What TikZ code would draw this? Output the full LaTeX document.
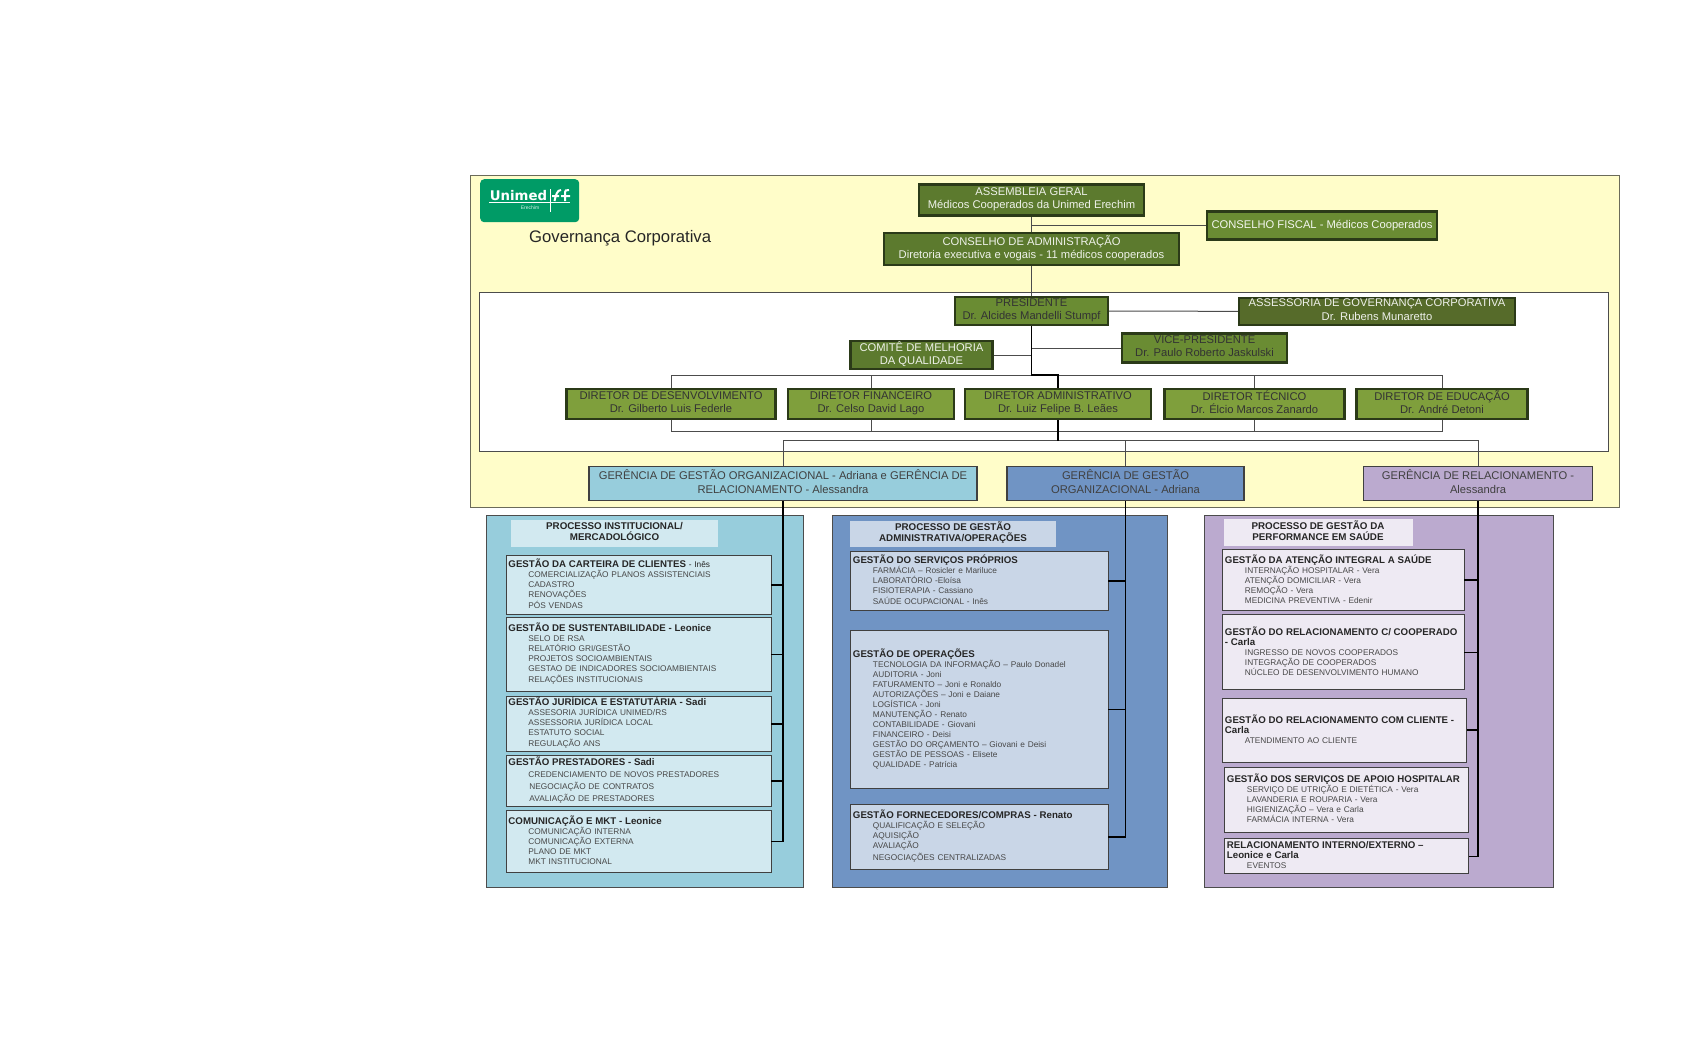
\documentclass[tikz,border=0pt]{standalone}
\usepackage{xcolor}
\usepackage{fontspec}
\setmainfont{Liberation Sans}
\newfontfamily\logofont{DejaVu Sans}
\usetikzlibrary{positioning,calc}

\definecolor{yellowbg}{HTML}{FFFDC9}
\definecolor{framegray}{HTML}{6B6B5A}
\definecolor{logogreen}{HTML}{009B66}
\definecolor{darkgreen}{HTML}{5C7A2E}
\definecolor{midgreen}{HTML}{6A8C33}
\definecolor{lightgreen}{HTML}{7F9F3C}
\definecolor{olivegreen}{HTML}{566B2A}
\definecolor{greenedge}{HTML}{2B3A18}
\definecolor{cyanpanel}{HTML}{97CDDC}
\definecolor{cyanbox}{HTML}{D2E9F0}
\definecolor{bluepanel}{HTML}{7094C4}
\definecolor{bluebox}{HTML}{C9D6E7}
\definecolor{lilacpanel}{HTML}{BBAACF}
\definecolor{lilacbox}{HTML}{EEEAF3}

\newcommand{\itm}[1]{\hspace*{20pt}{\color{black!72}#1}}
\newcommand{\hd}{\bfseries\fontsize{9.7}{12}\selectfont}

\tikzset{
    govbox/.style={draw=greenedge, line width=2.4pt, align=center, inner sep=0pt, execute at begin node=\strut, execute at end node=\strut, font=\fontsize{11.2}{13.5}\selectfont},
    gerbox/.style={draw=black!75, line width=1.8pt, align=center, inner sep=0pt, text=black!75, execute at begin node=\strut, execute at end node=\strut, font=\fontsize{11.2}{13.5}\selectfont},
    panelbox/.style={draw=black!70, line width=1pt, anchor=north west, inner sep=0pt},
    titlebox/.style={align=center, inner sep=0pt, text=black!85, execute at begin node=\strut, execute at end node=\strut, font=\bfseries\fontsize{9.8}{11}\selectfont},
    gestbox/.style={draw=black!75, line width=0.9pt, anchor=north west, align=left, inner xsep=2.5pt, inner ysep=0pt, text=black!85, execute at end node={\par\vspace*{2pt}}, font=\fontsize{8.3}{10}\selectfont},
    thinline/.style={draw=black!70, line width=1pt},
    thickline/.style={draw=black, line width=1.4pt}
}

\begin{document}
\begin{tikzpicture}[x=1pt,y=-1pt]
    \useasboundingbox (0,0) rectangle (1692,1053);
    \fill[white] (0,0) rectangle (1692,1053);

    % governance frames
    \node[draw=framegray, line width=1.2pt, fill=yellowbg, anchor=north west, minimum width=1149pt, minimum height=332.5pt, inner sep=0pt] (govframe) at (470,174.5) {};
    \node[draw=black!70, line width=1pt, fill=white, anchor=north west, minimum width=1129pt, minimum height=159pt, inner sep=0pt] (mgmtframe) at (478.5,292) {};

    % logo
    \node[fill=logogreen, rounded corners=4pt, anchor=north west, minimum width=99pt, minimum height=43pt, inner sep=0pt] (logo) at (480,179) {};
    \node[text=white, inner sep=0pt, font=\logofont\bfseries\fontsize{13.3}{14}\selectfont] (logoname) at (518.5,195.5) {Unimed};
    \node[text=white!85!logogreen, inner sep=0pt, font=\fontsize{5}{5}\selectfont] (logocity) at (530,207.5) {Erechim};
    \draw[white, line width=0.4pt] (489,202) -- (570,202);
    \draw[white, line width=0.5pt] (550,189) -- (550,212);
    \draw[white, line width=2pt] (554.5,201) .. controls (556,195) and (557,190) .. (561,190) (552,196) -- (559,196);
    \draw[white, line width=2pt] (565,201) -- (565,192) .. controls (565,190.5) and (566,190) .. (569,190) (561,196) -- (570,196);

    \node[anchor=west, inner sep=0pt, text=black!85, font=\fontsize{16.7}{18}\selectfont] (govtitle) at (529,238.5) {Governança Corporativa};

    % council
    \node[govbox, fill=darkgreen, text=white!90!darkgreen, minimum width=225pt, minimum height=31pt] (assembleia) at (1031.5,200) {ASSEMBLEIA GERAL\\Médicos Cooperados da Unimed Erechim};
    \node[govbox, fill=darkgreen, text=white!90!darkgreen, minimum width=295pt, minimum height=32pt] (conselho) at (1031.5,249) {CONSELHO DE ADMINISTRAÇÃO\\Diretoria executiva e vogais - 11 médicos cooperados};
    \node[govbox, fill=midgreen, text=white!92!midgreen, minimum width=230pt, minimum height=28pt] (fiscal) at (1322,225.5) {CONSELHO FISCAL - Médicos Cooperados};

    % presidency
    \node[govbox, fill=midgreen, text=black!80, minimum width=153pt, minimum height=28pt] (presidente) at (1031.5,311) {PRESIDENTE\\Dr. Alcides Mandelli Stumpf};
    \node[govbox, fill=olivegreen, text=white!90!olivegreen, minimum width=276pt, minimum height=27pt] (assessoria) at (1377,311.5) {ASSESSORIA DE GOVERNANÇA CORPORATIVA\\Dr. Rubens Munaretto};
    \node[govbox, fill=midgreen, text=black!80, minimum width=165pt, minimum height=29pt] (vice) at (1204.5,348) {VICE-PRESIDENTE\\Dr. Paulo Roberto Jaskulski};
    \node[govbox, fill=darkgreen, text=white!90!darkgreen, minimum width=142pt, minimum height=28pt] (comite) at (921.5,355) {COMITÊ DE MELHORIA\\DA QUALIDADE};

    % directors
    \foreach \dname/\dx/\dw/\dtitle/\dperson in {
        dirdes/671/209/DIRETOR DE DESENVOLVIMENTO/Dr. Gilberto Luis Federle,
        dirfin/871/166/DIRETOR FINANCEIRO/Dr. Celso David Lago,
        diradm/1058/186/DIRETOR ADMINISTRATIVO/Dr. Luiz Felipe B. Leães,
        dirtec/1254.5/180/DIRETOR TÉCNICO/Dr. Élcio Marcos Zanardo,
        diredu/1442/171/DIRETOR DE EDUCAÇÃO/Dr. André Detoni}
        \node[govbox, fill=lightgreen, text=black!80, minimum width=\dw pt, minimum height=30pt] (\dname) at (\dx,404) {\dtitle\\\dperson};

    % managers
    \node[gerbox, fill=cyanpanel, minimum width=388pt, minimum height=34pt] (ger1) at (783,483.5) {GERÊNCIA DE GESTÃO ORGANIZACIONAL - Adriana e GERÊNCIA DE\\RELACIONAMENTO - Alessandra};
    \node[gerbox, fill=bluepanel, minimum width=237pt, minimum height=34pt] (ger2) at (1125.5,483.5) {GERÊNCIA DE GESTÃO\\ORGANIZACIONAL - Adriana};
    \node[gerbox, fill=lilacpanel, minimum width=229pt, minimum height=34pt] (ger3) at (1478,483.5) {GERÊNCIA DE RELACIONAMENTO -\\Alessandra};

    % process panels
    \node[panelbox, fill=cyanpanel, minimum width=316.5pt, minimum height=372pt] (panel1) at (486,515) {};
    \node[panelbox, fill=bluepanel, minimum width=335pt, minimum height=372pt] (panel2) at (832,515) {};
    \node[panelbox, fill=lilacpanel, minimum width=349pt, minimum height=372pt] (panel3) at (1204,515) {};

    \node[titlebox, fill=cyanbox, minimum width=207pt, minimum height=27pt] (title1) at (614.5,533.5) {PROCESSO INSTITUCIONAL/\\MERCADOLÓGICO};
    \node[titlebox, fill=bluebox, minimum width=206pt, minimum height=26pt] (title2) at (953,533.5) {PROCESSO DE GESTÃO\\ADMINISTRATIVA/OPERAÇÕES};
    \node[titlebox, fill=lilacbox, minimum width=189pt, minimum height=27pt] (title3) at (1318,532) {PROCESSO DE GESTÃO DA\\PERFORMANCE EM SAÚDE};

    % first panel
    \node[gestbox, fill=cyanbox, text width=260pt, minimum height=59pt] (carteira) at (505.5,555) {{\hd GESTÃO DA CARTEIRA DE CLIENTES} - Inês\\\itm{COMERCIALIZAÇÃO PLANOS ASSISTENCIAIS}\\\itm{CADASTRO}\\\itm{RENOVAÇÕES}\\[1.5pt]\itm{PÓS VENDAS}};
    \node[gestbox, fill=cyanbox, text width=260pt, minimum height=74pt] (sustent) at (505.5,617) {{\hd GESTÃO DE SUSTENTABILIDADE - Leonice}\\\itm{SELO DE RSA}\\\itm{RELATÓRIO GRI/GESTÃO}\\\itm{PROJETOS SOCIOAMBIENTAIS}\\\itm{GESTAO DE INDICADORES SOCIOAMBIENTAIS}\\[1pt]\itm{RELAÇÕES INSTITUCIONAIS}};
    \node[gestbox, fill=cyanbox, text width=260pt, minimum height=55pt] (juridica) at (505.5,696) {{\hd GESTÃO JURÍDICA E ESTATUTÁRIA - Sadi}\\\itm{ASSESORIA JURÍDICA UNIMED/RS}\\\itm{ASSESSORIA JURÍDICA LOCAL}\\\itm{ESTATUTO SOCIAL}\\[1pt]\itm{REGULAÇÃO ANS}};
    \node[gestbox, fill=cyanbox, text width=260pt, minimum height=51pt] (prestadores) at (505.5,755) {{\hd GESTÃO PRESTADORES - Sadi}\\[2pt]\itm{CREDENCIAMENTO DE NOVOS PRESTADORES}\\[2pt]\itm{\hspace*{1pt}NEGOCIAÇÃO DE CONTRATOS}\\[2pt]\itm{\hspace*{1pt}AVALIAÇÃO DE PRESTADORES}};
    \node[gestbox, fill=cyanbox, text width=260pt, minimum height=62pt] (comunic) at (505.5,810) {{\hd COMUNICAÇÃO E MKT - Leonice}\\\itm{COMUNICAÇÃO INTERNA}\\\itm{COMUNICAÇÃO EXTERNA}\\\itm{PLANO DE MKT}\\\itm{MKT INSTITUCIONAL}};

    % second panel
    \node[gestbox, fill=bluebox, text width=252.5pt, minimum height=59pt] (proprios) at (850,551) {{\hd GESTÃO DO SERVIÇOS PRÓPRIOS}\\\itm{FARMÁCIA – Rosicler e Mariluce}\\\itm{LABORATÓRIO -Eloísa}\\\itm{FISIOTERAPIA - Cassiano}\\[1.5pt]\itm{SAÚDE OCUPACIONAL - Inês}};
    \node[gestbox, fill=bluebox, text width=252.5pt, minimum height=158pt] (operacoes) at (850,630.3) {{\hd GESTÃO DE OPERAÇÕES}\\\itm{TECNOLOGIA DA INFORMAÇÃO – Paulo Donadel}\\\itm{AUDITORIA - Joni}\\\itm{FATURAMENTO – Joni e Ronaldo}\\\itm{AUTORIZAÇÕES – Joni e Daiane}\\\itm{LOGÍSTICA - Joni}\\\itm{MANUTENÇÃO - Renato}\\\itm{CONTABILIDADE - Giovani}\\\itm{FINANCEIRO - Deisi}\\\itm{GESTÃO DO ORÇAMENTO – Giovani e Deisi}\\\itm{GESTÃO DE PESSOAS - Elisete}\\\itm{QUALIDADE - Patrícia}};
    \node[gestbox, fill=bluebox, text width=252.5pt, minimum height=65pt] (compras) at (850,804) {{\hd GESTÃO FORNECEDORES/COMPRAS - Renato}\\\itm{QUALIFICAÇÃO E SELEÇÃO}\\\itm{AQUISIÇÃO}\\\itm{AVALIAÇÃO}\\[1.5pt]\itm{NEGOCIAÇÕES CENTRALIZADAS}};

    % third panel
    \node[gestbox, fill=lilacbox, text width=236.5pt, minimum height=61pt] (atencao) at (1222,549) {{\hd GESTÃO DA ATENÇÃO INTEGRAL A SAÚDE}\\\itm{INTERNAÇÃO HOSPITALAR - Vera}\\\itm{ATENÇÃO DOMICILIAR - Vera}\\\itm{REMOÇÃO - Vera}\\\itm{MEDICINA PREVENTIVA - Edenir}};
    \node[gestbox, fill=lilacbox, text width=236.5pt, minimum height=75pt] (cooperado) at (1222,614.3) {{\hd GESTÃO DO RELACIONAMENTO C/ COOPERADO\\- Carla}\\\itm{INGRESSO DE NOVOS COOPERADOS}\\\itm{INTEGRAÇÃO DE COOPERADOS}\\\itm{NÚCLEO DE DESENVOLVIMENTO HUMANO}};
    \node[gestbox, fill=lilacbox, text width=239pt, minimum height=64pt] (cliente) at (1222,697.7) {{\hd GESTÃO DO RELACIONAMENTO COM CLIENTE -\\Carla}\\\itm{ATENDIMENTO AO CLIENTE}};
    \node[gestbox, fill=lilacbox, text width=239pt, minimum height=65pt] (apoio) at (1224,766.7) {{\hd GESTÃO DOS SERVIÇOS DE APOIO HOSPITALAR}\\\itm{SERVIÇO DE UTRIÇÃO E DIETÉTICA - Vera}\\\itm{LAVANDERIA E ROUPARIA - Vera}\\\itm{HIGIENIZAÇÃO – Vera e Carla}\\\itm{FARMÁCIA INTERNA - Vera}};
    \node[gestbox, fill=lilacbox, text width=239pt, minimum height=35pt] (interno) at (1224,838.3) {{\hd RELACIONAMENTO INTERNO/EXTERNO –\\Leonice e Carla}\\\itm{EVENTOS}};

    % connectors of the upper part
    \coordinate (fiscaljoin) at (assembleia.south |- fiscal.west);
    \coordinate (vicejoin) at (presidente.south |- vice.west);
    \coordinate (comitejoin) at (presidente.south |- comite.east);
    \coordinate (topbus) at (presidente.south |- 0,375);
    \coordinate (lowbus) at (diradm.south |- 0,431);
    \coordinate (gerbus) at (diradm.south |- 0,440.5);

    \draw[thinline] (assembleia) -- (conselho);
    \draw[thinline] (conselho) -- (presidente);
    \draw[thinline] (fiscaljoin) -- (fiscal);
    \draw[thinline] (presidente) -- (assessoria);
    \draw[thinline] (vicejoin) -- (vice);
    \draw[thinline] (comite) -- (comitejoin);
    \foreach \dname in {dirdes,dirfin,dirtec,diredu}
        \draw[thinline] (\dname.north) |- (topbus);
    \foreach \dname in {dirdes,dirfin,dirtec,diredu}
        \draw[thinline] (\dname.south) |- (lowbus);
    \foreach \gname in {ger1,ger2,ger3}
        \draw[thinline] (\gname.north) |- (gerbus);
    \draw[thickline] (presidente) -- (topbus) -- (topbus -| diradm.north) -- (diradm.north);
    \draw[thickline] (diradm.south) -- (gerbus);

    % spines down to the process boxes
    \coordinate (spine1) at (ger1.south |- comunic.east);
    \coordinate (spine2) at (ger2.south |- compras.east);
    \coordinate (spine3) at (ger3.south |- interno.east);
    \draw[thickline] (ger1) -- (spine1) -- (comunic.east);
    \draw[thickline] (ger2) -- (spine2) -- (compras.east);
    \draw[thickline] (ger3) -- (spine3) -- (interno.east);
    \foreach \bname in {carteira,sustent,juridica,prestadores}
        \draw[thickline] (\bname.east) -- (\bname.east -| spine1);
    \foreach \bname in {proprios,operacoes}
        \draw[thickline] (\bname.east) -- (\bname.east -| spine2);
    \foreach \bname in {atencao,cooperado,cliente}
        \draw[thickline] (\bname.east) -- (\bname.east -| spine3);
\end{tikzpicture}
\end{document}
